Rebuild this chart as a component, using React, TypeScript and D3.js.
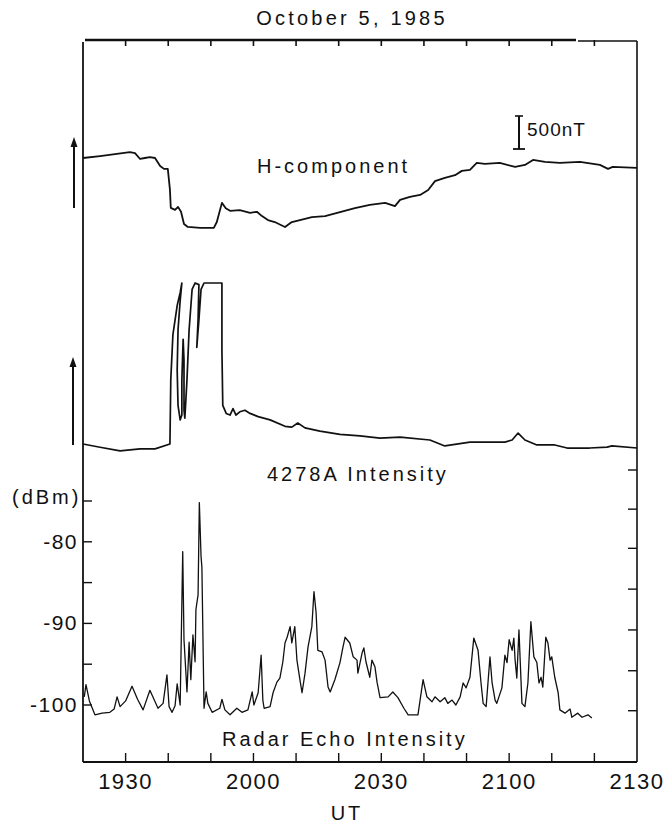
import React from "react";
import * as d3 from "d3";

// ---- data (time in minutes after 19:20 UT) ----
const minorTickMinutes = [10, 20, 30, 40, 50, 60, 70, 80, 90, 100, 110, 120];
const labelTickMinutes = [10, 40, 70, 100, 130];
const labelTickText = ["1930", "2000", "2030", "2100", "2130"];

const dbmTicks = [-100, -95, -90, -85, -80, -75];
const dbmLabels = [-100, -90, -80];
const rightTicks = [-100.7, -95.8, -90.8, -85.8, -80.8, -76.0, -71.2];

// H-component, deviation in nT relative to start
const hTime = [0, 4.0, 7.5, 11.0, 12.2, 13.4, 14.5, 15.7, 16.9, 18.1, 19.0, 19.9, 20.4, 20.6, 21.6, 22.3, 23.0, 23.7, 24.6, 27.5, 30.7, 31.4, 32.6, 33.5, 34.5, 36.8, 39.2, 40.8, 42.0, 43.4, 45.0, 47.4, 49.0, 50.9, 53.7, 56.8, 60.3, 63.8, 67.3, 70.9, 73.2, 74.4, 76.7, 79.1, 81.0, 82.6, 84.9, 87.3, 88.9, 90.8, 92.4, 94.3, 97.8, 101.4, 103.7, 105.6, 108.4, 111.9, 116.6, 121.3, 123.2, 124.3, 130];
const hValue = [0, 30, 60, 90, 75, -15, 0, 15, 0, -120, -165, -165, -480, -755, -785, -740, -815, -1000, -1045, -1060, -1060, -970, -680, -760, -800, -790, -830, -815, -880, -940, -970, -1045, -970, -940, -895, -880, -820, -760, -710, -680, -730, -635, -590, -560, -485, -350, -300, -260, -195, -180, -75, -90, -75, -135, -105, -30, -60, -75, -60, -105, -165, -135, -150];

// 4278A intensity, relative units (pen trace, saturating at 100)
const iTime = [0, 4.0, 8.7, 13.4, 16.9, 20.4, 20.6, 21.1, 22.1, 22.8, 23.2, 22.8, 22.3, 22.1, 22.3, 22.8, 23.2, 23.2, 23.5, 23.7, 23.7, 23.9, 24.4, 24.9, 25.6, 26.3, 27.2, 27.0, 26.7, 27.2, 27.7, 28.4, 32.6, 32.6, 32.8, 33.6, 34.5, 35.2, 35.9, 36.8, 38.0, 39.2, 41.1, 43.9, 47.4, 49.0, 50.4, 52.1, 55.6, 60.3, 65.0, 69.7, 74.4, 81.4, 84.9, 90.8, 99.0, 100.7, 102.1, 103.7, 106.5, 110.7, 113.6, 118.9, 123.0, 124.1, 130];
const iValue = [0, -2, -4.3, -3, -3, 0, 40, 68, 86, 94, 100, 89, 71, 46, 24, 15, 18, 40, 65, 52, 21, 16, 40, 71, 96, 100, 99, 77, 60, 77, 96, 100, 100, 58, 24, 19, 18, 22, 18, 20, 21, 19, 17, 15, 11, 10.5, 13, 10, 8, 6, 5, 3.7, 4.3, 2.5, -1.2, 1.2, 1.2, 2.5, 6.8, 2.5, -0.6, -0.6, -2.5, -2.5, -1.9, -1.2, -2.5];

// Radar echo intensity (dBm)
const rTime = [0.3, 0.7, 1.5, 2.8, 4.5, 6.3, 7.3, 8.0, 8.7, 10.0, 11.5, 12.8, 14.1, 15.7, 17.6, 18.8, 19.7, 20.2, 20.9, 21.6, 22.1, 22.8, 23.4, 23.7, 24.4, 24.9, 25.3, 25.8, 26.3, 26.5, 27.0, 27.3, 27.7, 27.9, 28.2, 28.4, 28.9, 29.3, 30.3, 32.1, 32.6, 33.3, 34.5, 36.1, 37.3, 38.7, 39.7, 40.1, 41.1, 41.8, 42.2, 42.5, 43.9, 44.6, 45.5, 46.2, 46.9, 47.4, 47.9, 48.6, 49.0, 49.7, 50.2, 50.9, 51.4, 52.1, 52.8, 53.7, 54.2, 54.7, 55.1, 56.1, 56.8, 57.5, 58.0, 59.1, 60.3, 61.0, 61.5, 62.6, 63.4, 64.3, 64.5, 65.5, 65.9, 66.4, 67.3, 67.8, 68.5, 69.0, 69.7, 71.6, 72.7, 73.9, 75.3, 76.3, 77.9, 78.6, 79.8, 80.7, 81.9, 82.6, 83.8, 84.9, 85.6, 86.6, 87.5, 88.5, 89.2, 89.9, 90.8, 91.7, 92.7, 93.4, 93.9, 94.6, 95.5, 96.0, 96.7, 97.1, 98.3, 99.0, 99.5, 100.0, 100.7, 101.1, 101.4, 101.8, 102.3, 103.0, 103.7, 104.4, 105.1, 105.8, 106.5, 107.0, 107.5, 107.9, 108.6, 109.1, 109.6, 110.0, 110.7, 111.5, 111.9, 113.1, 114.3, 114.7, 116.1, 117.1, 118.5, 119.4];
const rValue = [-99.0, -97.5, -99.5, -101.2, -101.0, -100.9, -100.5, -99.0, -100.2, -99.5, -97.7, -99.3, -100.6, -98.2, -100.4, -99.8, -96.3, -100.2, -100.9, -100.1, -97.4, -100.0, -81.2, -92.0, -98.4, -92.3, -96.9, -91.4, -94.7, -88.3, -86.5, -75.2, -81.8, -83.1, -93.6, -100.4, -98.4, -99.8, -100.9, -100.4, -99.3, -100.6, -101.2, -100.4, -100.9, -100.6, -98.4, -100.0, -98.5, -93.9, -99.4, -100.4, -100.2, -98.5, -97.2, -96.7, -94.7, -92.4, -91.7, -90.4, -92.4, -90.4, -94.5, -96.9, -98.5, -96.1, -92.9, -90.4, -86.1, -88.7, -93.3, -93.5, -94.5, -97.8, -98.4, -96.9, -94.8, -92.9, -91.7, -92.4, -94.1, -94.5, -96.1, -93.6, -93.0, -94.7, -96.6, -94.5, -95.3, -97.2, -99.1, -99.0, -98.4, -99.1, -100.4, -101.2, -101.2, -101.2, -96.9, -99.0, -99.6, -99.0, -99.6, -99.1, -99.8, -99.4, -100.0, -99.0, -97.3, -97.9, -96.6, -91.8, -93.3, -97.3, -99.8, -100.2, -94.1, -97.3, -99.4, -99.8, -97.9, -93.9, -94.8, -92.0, -93.3, -91.8, -94.5, -96.7, -90.8, -99.8, -100.2, -97.3, -89.8, -94.1, -94.8, -97.3, -96.6, -97.8, -91.7, -92.4, -94.5, -94.1, -96.6, -98.5, -100.6, -101.0, -100.5, -101.5, -101.0, -101.5, -101.2, -101.6];

const scaleBarNT = 500;

const FONT = "'Liberation Sans', Arial, Helvetica, sans-serif";

export default function App() {
  const W = 670, H = 825;
  const left = 83, right = 637, top = 40, bottom = 762;

  const x = d3.scaleLinear().domain([0, 130]).range([left, right]);
  const yH = d3.scaleLinear().domain([0, -1000]).range([158, 224]);
  const yI = d3.scaleLinear().domain([0, 100]).range([444, 283]);
  const yR = d3.scaleLinear().domain([-100, -75]).range([705, 501]);

  const hLine = d3.line<number>().x((_, i) => x(hTime[i])).y((v) => yH(v)).curve(d3.curveLinear);
  const iLine = d3.line<number>().x((_, i) => x(iTime[i])).y((v) => yI(v));
  const rLine = d3.line<number>().x((_, i) => x(rTime[i])).y((v) => yR(v));

  const barLen = Math.abs(yH(-scaleBarNT) - yH(0));
  const barX = 519, barBottom = 149;

  const textStyle: React.CSSProperties = { fontFamily: FONT, letterSpacing: "3px" };
  const ink = "#111";

  const arrow = (ax: number, yTail: number, yHead: number) => (
    <g>
      <line x1={ax} y1={yTail} x2={ax} y2={yHead + 8} stroke={ink} strokeWidth={2} />
      <path d={`M${ax - 3.5},${yHead + 10} L${ax},${yHead} L${ax + 3.5},${yHead + 10} Z`} fill={ink} />
    </g>
  );

  return (
    <svg width={W} height={H} viewBox={`0 0 ${W} ${H}`} style={{ position: "absolute", left: 0, top: 0, background: "#fff" }}>
      <rect x={0} y={0} width={W} height={H} fill="#fff" />
      {/* title */}
      <text x={352} y={25} textAnchor="middle" fontSize={20} fill={ink} style={{ fontFamily: FONT, letterSpacing: "3.2px" }}>October 5, 1985</text>

      {/* frame */}
      <line x1={left + 2} y1={top} x2={576} y2={top} stroke={ink} strokeWidth={2.6} />
      <line x1={578} y1={top + 1} x2={right} y2={top + 1} stroke={ink} strokeWidth={1.4} />
      <line x1={left} y1={top + 2} x2={left} y2={bottom} stroke={ink} strokeWidth={1.8} />
      <line x1={right} y1={top + 1} x2={right} y2={bottom} stroke={ink} strokeWidth={1.6} />
      <line x1={left} y1={bottom} x2={right} y2={bottom} stroke={ink} strokeWidth={1.8} />

      {/* top ticks */}
      {minorTickMinutes.map((m) => (
        <line key={"t" + m} x1={x(m)} y1={top} x2={x(m)} y2={top + 6} stroke={ink} strokeWidth={1.6} />
      ))}
      {/* bottom ticks */}
      {minorTickMinutes.map((m) => (
        <line key={"b" + m} x1={x(m)} y1={bottom} x2={x(m)} y2={bottom - 9} stroke={ink} strokeWidth={1.4} />
      ))}
      {labelTickMinutes.map((m, i) => (
        <text key={"bl" + m} x={x(m)} y={789} textAnchor="middle" fontSize={22} fill={ink} style={{ fontFamily: FONT, letterSpacing: "1.5px" }}>
          {labelTickText[i]}
        </text>
      ))}
      <text x={347} y={820} textAnchor="middle" fontSize={20} fill={ink} style={textStyle}>UT</text>

      {/* left dBm axis */}
      {dbmTicks.map((v) => (
        <line key={"l" + v} x1={left} y1={yR(v)} x2={left + 9} y2={yR(v)} stroke={ink} strokeWidth={1.4} />
      ))}
      {dbmLabels.map((v) => (
        <text key={"ll" + v} x={78} y={yR(v) + 7} textAnchor="end" fontSize={21} fill={ink} style={{ fontFamily: FONT, letterSpacing: "1.5px" }}>
          {String(v)}
        </text>
      ))}
      <text x={12} y={504} fontSize={20} fill={ink} style={textStyle}>(dBm)</text>

      {/* right ticks */}
      {rightTicks.map((v) => (
        <line key={"r" + v} x1={right} y1={yR(v)} x2={right - 9} y2={yR(v)} stroke={ink} strokeWidth={1.4} />
      ))}

      {/* arrows */}
      {arrow(74, 208, 137)}
      {arrow(73, 445, 357)}

      {/* scale bar */}
      <line x1={barX} y1={barBottom} x2={barX} y2={barBottom - barLen} stroke={ink} strokeWidth={2} />
      <line x1={barX - 6} y1={barBottom} x2={barX + 6} y2={barBottom} stroke={ink} strokeWidth={1.8} />
      <line x1={barX - 4} y1={barBottom - barLen} x2={barX + 4} y2={barBottom - barLen} stroke={ink} strokeWidth={1.6} />
      <text x={527} y={136} fontSize={19} fill={ink} style={{ fontFamily: FONT, letterSpacing: "1px" }}>500nT</text>

      {/* traces */}
      <path d={hLine(hValue) || ""} fill="none" stroke={ink} strokeWidth={1.8} strokeLinejoin="round" />
      <path d={iLine(iValue) || ""} fill="none" stroke={ink} strokeWidth={1.7} strokeLinejoin="round" />
      <path d={rLine(rValue) || ""} fill="none" stroke={ink} strokeWidth={1.3} strokeLinejoin="round" />

      {/* labels */}
      <text x={257} y={173} fontSize={20} fill={ink} style={textStyle}>H-component</text>
      <text x={267} y={481} fontSize={20} fill={ink} style={textStyle}>4278A Intensity</text>
      <text x={222} y={746} fontSize={20} fill={ink} style={textStyle}>Radar Echo Intensity</text>
    </svg>
  );
}
